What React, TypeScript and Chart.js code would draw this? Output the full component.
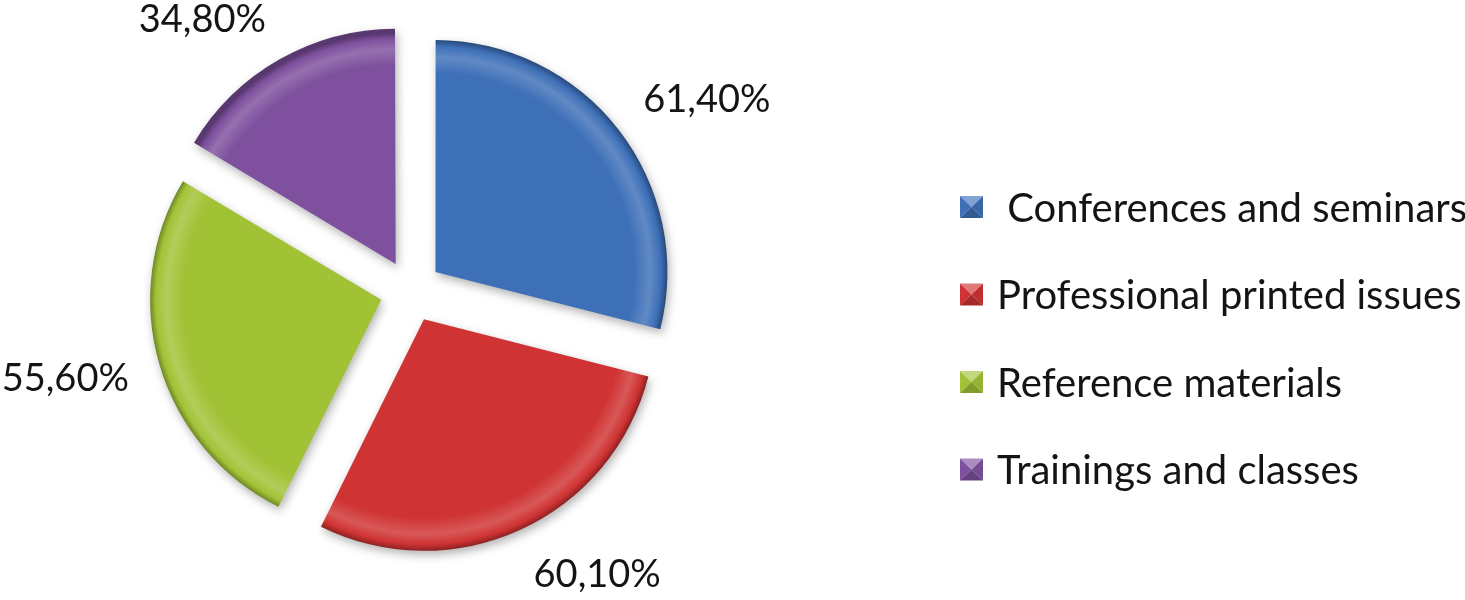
import React, { useEffect, useRef } from "react";
import { Chart, registerables } from "chart.js";

Chart.register(...registerables);

// ---- data ----
const categories = [
  "Conferences and seminars",
  "Professional printed issues",
  "Reference materials",
  "Trainings and classes",
];
const legendTexts = [
  " Conferences and seminars",
  "Professional printed issues",
  "Reference materials",
  "Trainings and classes",
];
const values = [61.4, 60.1, 55.6, 34.8];
const valueLabels = ["61,40%", "60,10%", "55,60%", "34,80%"];
const colors = ["#3E70B8", "#D03333", "#A2C236", "#7E509E"];

// ---- style constants ----
const FONT = "Lato, 'Open Sans', sans-serif";
const RADIUS = 231;
const OFFSET = 124;
const LABEL_GAP = 32;
const LEGEND_X = 960;
const LEGEND_Y0 = 207;
const LEGEND_STEP = 87.5;

function mix(hex: string, target: number, amt: number): string {
  const n = parseInt(hex.slice(1), 16);
  const r = (n >> 16) & 255, g = (n >> 8) & 255, b = n & 255;
  const f = (c: number) => Math.round(c + (target - c) * amt);
  return `rgb(${f(r)},${f(g)},${f(b)})`;
}

const shadowPlugin = {
  id: "shadowPlugin",
  beforeDatasetsDraw(chart: any) {
    const ctx = chart.ctx;
    ctx.save();
    ctx.shadowColor = "rgba(0,0,0,0.3)";
    ctx.shadowBlur = 10;
    ctx.shadowOffsetX = 2;
    ctx.shadowOffsetY = 4;
  },
  afterDatasetsDraw(chart: any) {
    chart.ctx.restore();
  },
};

const labelPlugin = {
  id: "labelPlugin",
  afterDraw(chart: any) {
    const ctx = chart.ctx;
    const meta = chart.getDatasetMeta(0);
    ctx.save();
    ctx.font = `38px ${FONT}`;
    ctx.fillStyle = "#141414";
    ctx.textBaseline = "middle";
    meta.data.forEach((arc: any, i: number) => {
      const { x, y, startAngle, endAngle, outerRadius } = arc.getProps(
        ["x", "y", "startAngle", "endAngle", "outerRadius"],
        true
      );
      const mid = (startAngle + endAngle) / 2;
      const off = (arc.options.offset || 0) / 4;
      const L = outerRadius + off + LABEL_GAP;
      const ux = Math.cos(mid), uy = Math.sin(mid);
      ctx.textAlign = ux >= 0 ? "left" : "right";
      ctx.fillText(valueLabels[i], x + ux * L, y + uy * L + uy * 18);
    });
    ctx.restore();
  },
};

const legendPlugin = {
  id: "customLegend",
  afterDraw(chart: any) {
    const ctx = chart.ctx;
    ctx.save();
    ctx.font = `40px ${FONT}`;
    ctx.fillStyle = "#141414";
    ctx.textBaseline = "middle";
    ctx.textAlign = "left";
    const bw = 23, bh = 22;
    legendTexts.forEach((t, i) => {
      const cy = LEGEND_Y0 + i * LEGEND_STEP;
      const x = LEGEND_X, y = cy - bh / 2;
      const c = colors[i];
      const cx0 = x + bw / 2, cy0 = y + bh / 2;
      const tri = (pts: number[][], col: string) => {
        ctx.beginPath();
        ctx.moveTo(pts[0][0], pts[0][1]);
        ctx.lineTo(pts[1][0], pts[1][1]);
        ctx.lineTo(pts[2][0], pts[2][1]);
        ctx.closePath();
        ctx.fillStyle = col;
        ctx.fill();
      };
      tri([[x, y], [x + bw, y], [cx0, cy0]], mix(c, 255, 0.35));
      tri([[x, y], [x, y + bh], [cx0, cy0]], c);
      tri([[x + bw, y], [x + bw, y + bh], [cx0, cy0]], mix(c, 0, 0.08));
      tri([[x, y + bh], [x + bw, y + bh], [cx0, cy0]], mix(c, 0, 0.2));
      ctx.fillStyle = "#141414";
      ctx.fillText(t, LEGEND_X + 37, cy + 2);
    });
    ctx.restore();
  },
};

export default function App() {
  const ref = useRef<HTMLCanvasElement | null>(null);

  useEffect(() => {
    if (!ref.current) return;
    const chart = new Chart(ref.current, {
      type: "pie",
      data: {
        labels: categories,
        datasets: [
          {
            data: values,
            backgroundColor: (ctx: any) => {
              const base = colors[ctx.dataIndex];
              const area = ctx.chart.chartArea;
              if (!area) return base;
              const cx = (area.left + area.right) / 2;
              const cy = (area.top + area.bottom) / 2;
              const g = ctx.chart.ctx.createRadialGradient(cx, cy, 0, cx, cy, RADIUS);
              g.addColorStop(0, base);
              g.addColorStop(0.86, base);
              g.addColorStop(0.93, mix(base, 255, 0.18));
              g.addColorStop(0.975, base);
              g.addColorStop(1, mix(base, 0, 0.3));
              return g;
            },
            borderWidth: 0,
            offset: OFFSET,
            hoverOffset: 0,
          },
        ],
      },
      options: {
        responsive: false,
        animation: false,
        radius: RADIUS,
        layout: { padding: { left: 0, right: 643, top: 0, bottom: 18 } },
        plugins: {
          legend: { display: false },
          tooltip: { enabled: false },
        },
      } as any,
      plugins: [shadowPlugin, labelPlugin, legendPlugin],
    });
    return () => chart.destroy();
  }, []);

  return (
    <div style={{ position: "absolute", left: 0, top: 0, width: 1465, height: 600, background: "#fff" }}>
      <canvas ref={ref} width={1465} height={600} style={{ display: "block" }} />
    </div>
  );
}
